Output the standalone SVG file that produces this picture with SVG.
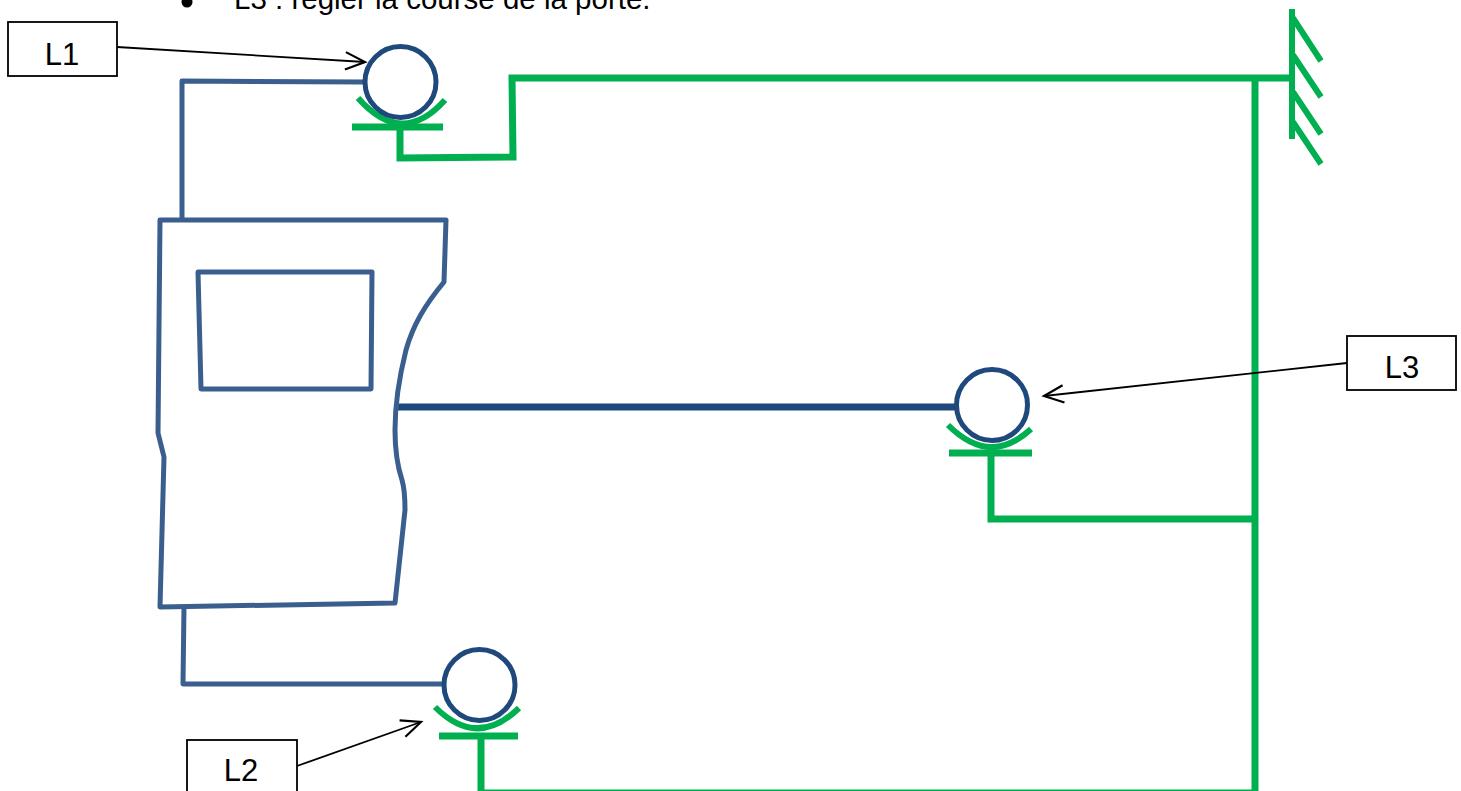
<svg xmlns="http://www.w3.org/2000/svg" width="1461" height="791" viewBox="0 0 1461 791">
<style>
.b{fill:none;stroke:#3a5f8f;stroke-width:5;stroke-linejoin:round}
.c{fill:#fff;stroke:#1f497d;stroke-width:5}
.g{fill:none;stroke:#00b050;stroke-width:7}
.w{fill:none;stroke:#00b050;stroke-width:6}
.a{fill:none;stroke:#000;stroke-width:1.8;marker-end:url(#h)}
.box{fill:#fff;stroke:#000;stroke-width:1.8}
text{font-family:"Liberation Sans",Arial,sans-serif;fill:#000}
.l{font-size:31px;text-anchor:middle}
</style>
<defs>
<marker id="h" markerUnits="userSpaceOnUse" markerWidth="24" markerHeight="24" refX="19" refY="10" orient="auto" viewBox="0 0 22 20"><path d="M1,2 L19,10 L1,18" fill="none" stroke="#000" stroke-width="2"/></marker>
</defs>
<rect width="1461" height="791" fill="#fff"/>
<circle cx="187" cy="2" r="5.5" fill="#000"/>
<text x="234" y="9" font-size="29.5">L3 : régler la course de la porte.</text>
<g id="connectors">
<path class="b" d="M364,82 L182,81 L182,219"/>
<path class="b" d="M184,606 L183,684 L444,684"/>
<path d="M398,407 H956" fill="none" stroke="#1f497d" stroke-width="7"/>
<path class="g" d="M400,127 V158 L513,157 L512,78 H1292"/>
<path class="g" d="M1255,77 V791"/>
<path class="g" d="M991,453 V519 H1255"/>
<path class="g" d="M481,736 V793 H1255"/>
<path class="a" d="M117,47 L365,62"/>
<path class="a" d="M297,766 L421,722"/>
<path class="a" d="M1347,363 L1044,396"/>
</g>
<g id="door"><path class="b" d="M160,220 H446 L444,282 C425,305 413,325 406,350 C399,378 395,405 395,430 C395,450 397,465 402,480 C405,490 405,500 405,510 L395,603 L160,607 L164,457 L158,433 Z"/>
<path class="b" d="M198,272 H372 L371,389 H201 Z"/></g>
<g id="wall"><path class="w" d="M1292,9 V139 M1293,18 L1321,61 M1293,55 L1321,97 M1293,92 L1321,134 M1293,122 L1321,164"/></g>
<g id="roller-L1"><path class="w" d="M358,98 Q402,148 445,100"/><path class="g" d="M352,127 H443"/><circle class="c" cx="400.5" cy="82" r="35.5"/></g>
<g id="roller-L3"><path class="w" d="M948,425 Q990,467 1031,429"/><path class="g" d="M949,453 H1032"/><circle class="c" cx="992" cy="405" r="35.5"/></g>
<g id="roller-L2"><path class="w" d="M435,707 Q477,749 519,708"/><path class="g" d="M439,736 H518"/><circle class="c" cx="479.5" cy="685" r="35.5"/></g>
<g id="L1"><rect class="box" x="8" y="22" width="109" height="54"/><text class="l" x="62" y="65">L1</text></g>
<g id="L2"><rect class="box" x="187" y="740" width="110" height="60"/><text class="l" x="241" y="781">L2</text></g>
<g id="L3"><rect class="box" x="1347" y="336" width="109" height="54"/><text class="l" x="1402" y="378">L3</text></g>
</svg>
